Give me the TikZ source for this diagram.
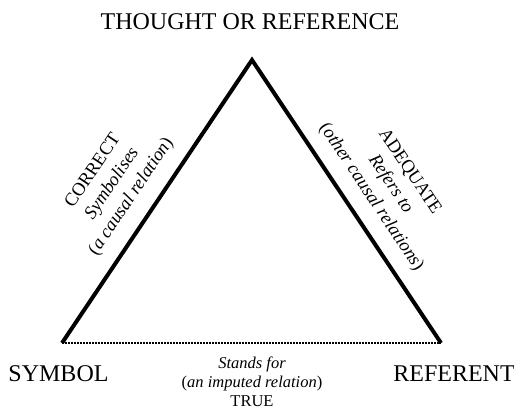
\documentclass[tikz,border=0pt]{standalone}
\usepackage{fontspec}
\setmainfont{Liberation Serif}
\usepackage{tikz}
\usetikzlibrary{calc}
\newcommand{\edgecolor}{black}
\newcommand{\thickness}{4pt}
\newcommand{\dotwidth}{1.5pt}
\newcommand{\bigtext}{\fontsize{24}{28}\selectfont}
\newcommand{\sidetext}{\fontsize{18.5}{23}\selectfont}
\newcommand{\basetext}{\fontsize{16.5}{19}\selectfont}

\begin{document}
\begin{tikzpicture}[x=1pt,y=-1pt]
\useasboundingbox (0,0) rectangle (514,412);
\coordinate (1) at (252,60);
\coordinate (2) at (62,343);
\coordinate (3) at (441,343);
%corners
\node[font = \bigtext] (t) at (250,22) {THOUGHT OR REFERENCE};
\node[font = \bigtext] (s) at (58.5,374) {SYMBOL};
\node[font = \bigtext] (r) at (454,374) {REFERENT};
%sides
\draw[\edgecolor] [line width = \thickness] (2) -- (1) -- (3);
\draw[\edgecolor] [line width = \dotwidth, dash pattern = on \dotwidth off \dotwidth] (2) -- (3);
%labels
\path (2) -- node[sloped, above = 12pt, pos = 0.47, align = center, font = \sidetext] (sl) {CORRECT\\ \itshape Symbolises\\ {\upshape(}\itshape a causal relation{\upshape)}} (1);
\path (1) -- node[sloped, above = 11pt, pos = 0.53, align = center, font = \sidetext] (sr) {ADEQUATE\\ \itshape Refers to\\ {\upshape(}\itshape other causal relations{\upshape)}} (3);
\node[align = center, font = \basetext] (b) at (252,382) {\itshape Stands for\\ {\upshape(}\itshape an imputed relation{\upshape)}\\ TRUE};
\end{tikzpicture}
\end{document}
